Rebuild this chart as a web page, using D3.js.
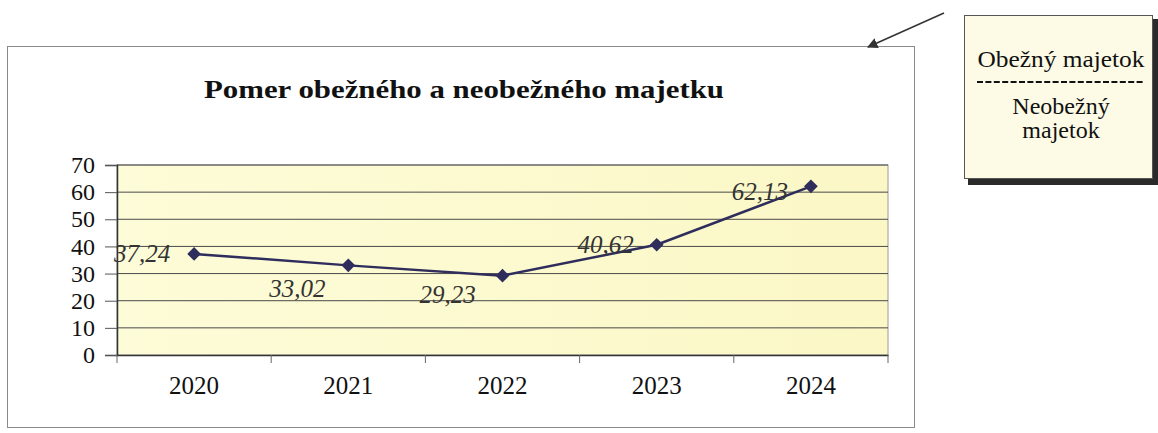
<!DOCTYPE html>
<html>
<head>
<meta charset="utf-8">
<script src="https://cdn.jsdelivr.net/npm/d3@7"></script>
<style>
  body { margin: 0; background: #fff; }
</style>
</head>
<body>
<div id="chart"></div>
<script>
// Chart data
const years = ["2020", "2021", "2022", "2023", "2024"];
const ratioValues = [37.24, 33.02, 29.23, 40.62, 62.13];
const yTicks = [0, 10, 20, 30, 40, 50, 60, 70];
const chartTitle = "Pomer obežného a neobežného majetku";
const noteTop = ["Obežný majetok"];
const noteBottom = ["Neobežný", "majetok"];

// label nudges (px) relative to the point, as placed in the source
const labelNudge = [[-52, 8], [-51, 32], [-55, 27], [-51, 8], [-51, 14]];

const serif = "Liberation Serif";
const width = 1158;
const height = 433;
const plot = { left: 117, right: 888, top: 165, bottom: 355 };

const svg = d3.select("#chart").append("svg")
    .attr("width", width)
    .attr("height", height)
    .attr("font-family", serif);

// outer chart frame
svg.append("rect")
    .attr("x", 7.5).attr("y", 46.5)
    .attr("width", 907).attr("height", 381)
    .attr("fill", "#fff")
    .attr("stroke", "#8a8a8a")
    .attr("stroke-width", 1);

// title
svg.append("text")
    .attr("x", 464)
    .attr("y", 98)
    .attr("text-anchor", "middle")
    .attr("font-size", 26)
    .attr("font-weight", "bold")
    .attr("textLength", 520)
    .attr("lengthAdjust", "spacingAndGlyphs")
    .attr("fill", "#111")
    .text(chartTitle);

// scales
const x = d3.scaleBand()
    .domain(years)
    .range([plot.left, plot.right])
    .padding(0);

const y = d3.scaleLinear()
    .domain([0, 70])
    .range([plot.bottom, plot.top]);

// plot area background
const grad = svg.append("defs").append("linearGradient")
    .attr("id", "plotFill")
    .attr("x1", 0).attr("y1", 0).attr("x2", 1).attr("y2", 0);
grad.append("stop").attr("offset", "0%").attr("stop-color", "#fdfcd8");
grad.append("stop").attr("offset", "100%").attr("stop-color", "#fbf7c6");

svg.append("rect")
    .attr("x", plot.left).attr("y", plot.top)
    .attr("width", plot.right - plot.left)
    .attr("height", plot.bottom - plot.top)
    .attr("fill", "url(#plotFill)")
    .attr("stroke", "#9a9a9a")
    .attr("stroke-width", 1);

// gridlines
svg.append("g")
    .selectAll("line")
    .data(yTicks.filter(d => d > 0))
    .join("line")
    .attr("x1", plot.left).attr("x2", plot.right)
    .attr("y1", d => y(d)).attr("y2", d => y(d))
    .attr("stroke", "#4a4a4a")
    .attr("stroke-width", 1);

// y axis
const yAxis = svg.append("g")
    .attr("transform", `translate(${plot.left},0)`)
    .call(d3.axisLeft(y).tickValues(yTicks).tickSize(12).tickPadding(10).tickFormat(d3.format("d")))
    .attr("font-family", serif)
    .attr("font-size", 24);
yAxis.select(".domain").attr("stroke", "#333").attr("stroke-width", 1.5);
yAxis.selectAll(".tick line").attr("stroke", "#555");
yAxis.selectAll(".tick text").attr("fill", "#111");

// x axis
const xAxis = svg.append("g")
    .attr("transform", `translate(0,${plot.bottom})`)
    .call(d3.axisBottom(x).tickSize(0).tickPadding(21))
    .attr("font-family", serif)
    .attr("font-size", 25);
xAxis.select(".domain").attr("stroke", "#333").attr("stroke-width", 1.5);
xAxis.selectAll(".tick text").attr("fill", "#111");

// x tick marks at band edges
svg.append("g")
    .selectAll("line")
    .data(years.concat(["end"]))
    .join("line")
    .attr("x1", (d, i) => i < years.length ? x(d) : plot.right)
    .attr("x2", (d, i) => i < years.length ? x(d) : plot.right)
    .attr("y1", plot.bottom)
    .attr("y2", plot.bottom + 8)
    .attr("stroke", "#666")
    .attr("stroke-width", 1);

// line
const cx = d => x(d) + x.bandwidth() / 2;
const line = d3.line()
    .x((d, i) => cx(years[i]))
    .y(d => y(d));

svg.append("path")
    .datum(ratioValues)
    .attr("d", line)
    .attr("fill", "none")
    .attr("stroke", "#2e2d5c")
    .attr("stroke-width", 2.5);

// diamond markers
svg.append("g")
    .selectAll("path")
    .data(ratioValues)
    .join("path")
    .attr("d", d3.symbol().type(d3.symbolDiamond2).size(120))
    .attr("transform", (d, i) => `translate(${cx(years[i])},${y(d)})`)
    .attr("fill", "#2e2d5c");

// data labels
svg.append("g")
    .attr("font-size", 25)
    .attr("font-style", "italic")
    .selectAll("text")
    .data(ratioValues)
    .join("text")
    .attr("x", (d, i) => cx(years[i]) + labelNudge[i][0])
    .attr("y", (d, i) => y(d) + labelNudge[i][1])
    .attr("text-anchor", "middle")
    .attr("fill", "#333")
    .text(d => d.toFixed(2).replace(".", ","));

// arrow pointing at the chart
svg.append("defs").append("marker")
    .attr("id", "arrowHead")
    .attr("viewBox", "0 0 10 10")
    .attr("refX", 9).attr("refY", 5)
    .attr("markerWidth", 7).attr("markerHeight", 7)
    .attr("orient", "auto")
    .append("path")
    .attr("d", "M0,0 L10,5 L0,10 z")
    .attr("fill", "#333");

svg.append("line")
    .attr("x1", 944).attr("y1", 13)
    .attr("x2", 868).attr("y2", 47)
    .attr("stroke", "#333")
    .attr("stroke-width", 1.5)
    .attr("marker-end", "url(#arrowHead)");

// note box with shadow
svg.append("rect")
    .attr("x", 968).attr("y", 19)
    .attr("width", 190).attr("height", 166)
    .attr("fill", "#2a2a2a");
svg.append("rect")
    .attr("x", 964.5).attr("y", 15.5)
    .attr("width", 188).attr("height", 163)
    .attr("fill", "#fdfbe6")
    .attr("stroke", "#555")
    .attr("stroke-width", 1);

// numerator
svg.append("text")
    .attr("x", 1061)
    .attr("y", 67)
    .attr("text-anchor", "middle")
    .attr("font-size", 24)
    .attr("textLength", 167)
    .attr("lengthAdjust", "spacingAndGlyphs")
    .attr("fill", "#111")
    .text(noteTop[0]);

// dashed fraction bar
svg.append("line")
    .attr("x1", 977).attr("x2", 1145)
    .attr("y1", 82).attr("y2", 82)
    .attr("stroke", "#111")
    .attr("stroke-width", 2.2)
    .attr("stroke-dasharray", "6,2.4");

// denominator
svg.append("g")
    .selectAll("text")
    .data(noteBottom)
    .join("text")
    .attr("x", 1061)
    .attr("y", (d, i) => 114 + i * 24)
    .attr("text-anchor", "middle")
    .attr("font-size", 24)
    .attr("fill", "#111")
    .text(d => d);
</script>
</body>
</html>
